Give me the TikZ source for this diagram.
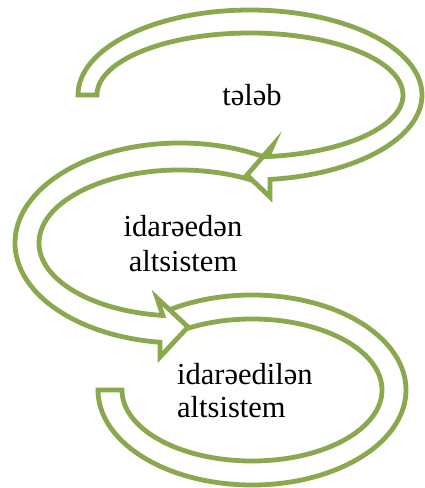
\documentclass[tikz,border=0pt]{standalone}
\usepackage{fontspec}
\setmainfont{Liberation Serif}
\definecolor{leaf}{HTML}{8AA94E}
\begin{document}
\begin{tikzpicture}[x=1pt,y=1pt,
  band/.style={draw=leaf, fill=white, line width=4.8pt, line join=miter, miter limit=10},
  caption/.style={inner sep=0pt, font=\fontsize{30.5pt}{34pt}\selectfont}]
\useasboundingbox (0,0) rectangle (425,488);

% centres of the three loops
\coordinate (c1) at (250,393);
\coordinate (c2) at (180,245);
\coordinate (c3) at (252,98);

% bottom loop: starts under the middle arrowhead, ends with a flat cut on the left
\filldraw[band] ([shift={(c3)}]124:154 and 95)
  arc[start angle=124, end angle=-180, x radius=154, y radius=95]
  -- ([shift={(c3)}]180:130 and 71)
  arc[start angle=-180, end angle=124, x radius=130, y radius=71];

% middle loop: starts under the top arrowhead, arrowhead points right
\filldraw[band] ([shift={(c2)}]55:165 and 100)
  arc[start angle=55, end angle=263, x radius=165, y radius=100]
  -- (160,131) -- (188,161) -- (157,190)
  -- ([shift={(c2)}]263:141 and 73)
  arc[start angle=263, end angle=55, x radius=141, y radius=73];

% top loop: flat cut on the left, arrowhead points left
\filldraw[band] ([shift={(c1)}]180:172 and 85)
  arc[start angle=180, end angle=-83.3, x radius=172, y radius=85]
  -- (270,291) -- (247,313) -- (273,343)
  -- ([shift={(c1)}]-83.3:153 and 62)
  arc[start angle=-83.3, end angle=180, x radius=153, y radius=62]
  -- cycle;

% captions (base anchor sits on the last line of a two-line caption)
\node[caption, anchor=base] (req) at (252,382) {tələb};
\node[caption, anchor=base, align=center, font=\fontsize{30.5pt}{35pt}\selectfont] (ctrl) at (183,216) {idarəedən\\altsistem};
\node[caption, anchor=base west, align=left, font=\fontsize{30.5pt}{33pt}\selectfont] (obj) at (177,70) {idarəedilən\\altsistem};
\end{tikzpicture}
\end{document}
